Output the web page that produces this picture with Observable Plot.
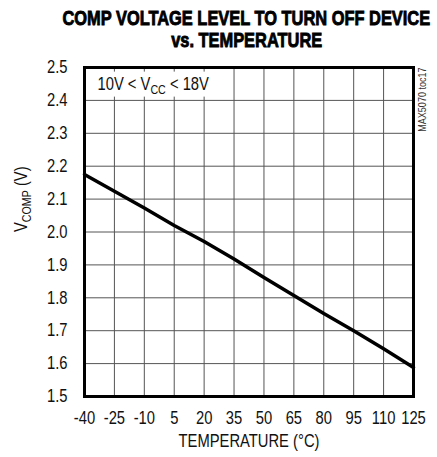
<!DOCTYPE html>
<html>
<head>
<meta charset="utf-8">
<script src="https://cdn.jsdelivr.net/npm/d3@7"></script>
<script src="https://cdn.jsdelivr.net/npm/@observablehq/plot@0.6"></script>
<style>
  html, body { margin: 0; padding: 0; background: #fff; }
  #title {
    position: relative; width: 437px; height: 50px; overflow: hidden;
    font-family: "Liberation Sans", Arial, sans-serif;
    font-weight: bold; font-size: 21px; line-height: 22px; color: #000;
    -webkit-text-stroke: 0.9px #000; white-space: nowrap;
  }
  #title span { position: absolute; display: inline-block; transform-origin: 50% 50%; }
</style>
</head>
<body>
<div id="title"><span id="t1">COMP VOLTAGE LEVEL TO TURN OFF DEVICE</span><span id="t2">vs. TEMPERATURE</span></div>
<div id="chart"></div>
<script>
const temperature = [-40, -25, -10, 5, 20, 35, 50, 65, 80, 95, 110, 125];
const vcomp = [2.175, 2.124, 2.073, 2.02, 1.971, 1.918, 1.862, 1.807, 1.752, 1.70, 1.645, 1.588];
const xTicks = [-40, -25, -10, 5, 20, 35, 50, 65, 80, 95, 110, 125];
const yTicks = [1.5, 1.6, 1.7, 1.8, 1.9, 2.0, 2.1, 2.2, 2.3, 2.4, 2.5];
const xLabel = "TEMPERATURE (°C)";
const yLabel = "VCOMP (V)";
const noteText = "10V < VCC < 18V";
const noteBox = [{x1: -40, x2: 28, y1: 2.41, y2: 2.486}];
const tocLabel = "MAX5070 toc17";

const data = temperature.map((t, i) => ({t, v: vcomp[i]}));
const font = '"Liberation Sans", Arial, sans-serif';
const narrow = 0.82;

// title: condensed by horizontal scaling, centered over the plot area
(function () {
  const t1 = document.getElementById("t1"), t2 = document.getElementById("t2");
  const w1 = t1.offsetWidth, w2 = t2.offsetWidth;
  const s = 368 / w1;
  const cx = 246;
  t1.style.left = (cx - w1 / 2) + "px"; t1.style.top = "6.5px";
  t2.style.left = (cx - w2 / 2) + "px"; t2.style.top = "28.5px";
  t1.style.transform = `scaleX(${s})`;
  t2.style.transform = `scaleX(${s})`;
})();

const chart = Plot.plot({
  width: 437,
  height: 407,
  marginTop: 17,
  marginBottom: 61,
  marginLeft: 84,
  marginRight: 24,
  style: {fontFamily: font, fontSize: "18px", color: "#111", background: "#fff"},
  x: {domain: [-40, 125], label: null},
  y: {domain: [1.5, 2.5], label: null},
  marks: [
    Plot.ruleX(xTicks, {stroke: "#555", strokeWidth: 1}),
    Plot.ruleY(yTicks, {stroke: "#555", strokeWidth: 1}),
    Plot.rect(noteBox, {x1: "x1", x2: "x2", y1: "y1", y2: "y2", fill: "#fff"}),
    Plot.text([noteText], {text: d => d, frameAnchor: "top-left", textAnchor: "start", lineAnchor: "top", dx: 13, dy: 10, fontSize: 18, fill: "#111"}),
    Plot.line(data, {x: "t", y: "v", stroke: "#000", strokeWidth: 3.5}),
    Plot.frame({stroke: "#000", strokeWidth: 3}),
    Plot.axisX(xTicks, {tickSize: 0, tickPadding: 15, tickFormat: d => String(d), fontSize: 18, label: null}),
    Plot.axisY(yTicks, {tickSize: 0, tickPadding: 17, tickFormat: d => d.toFixed(1), fontSize: 18, label: null}),
    Plot.text([xLabel], {text: d => d, frameAnchor: "bottom", lineAnchor: "middle", dy: 45, fontSize: 18, fill: "#111"}),
    Plot.text([yLabel], {text: d => d, frameAnchor: "left", rotate: -90, lineAnchor: "middle", dx: -63, fontSize: 18, fill: "#111"}),
    Plot.text([tocLabel], {text: d => d, frameAnchor: "top-right", rotate: -90, textAnchor: "end", lineAnchor: "middle", dx: 9, dy: 0, fontSize: 11, fill: "#333"})
  ]
});
document.getElementById("chart").appendChild(chart);

// subscripts
function subscript(textContent, pre, sub, post) {
  chart.querySelectorAll("text").forEach(el => {
    if (el.textContent === textContent) {
      const target = el.querySelector("tspan") || el;
      while (target.firstChild) target.removeChild(target.firstChild);
      const ns = "http://www.w3.org/2000/svg";
      target.appendChild(document.createTextNode(pre));
      const s = document.createElementNS(ns, "tspan");
      s.setAttribute("font-size", "13");
      s.setAttribute("dy", "4");
      s.textContent = sub;
      target.appendChild(s);
      const p = document.createElementNS(ns, "tspan");
      p.setAttribute("dy", "-4");
      p.textContent = post;
      target.appendChild(p);
    }
  });
}
subscript(noteText, "10V < V", "CC", " < 18V");
subscript(yLabel, "V", "COMP", " (V)");

// condense all svg text horizontally (narrow face look)
chart.querySelectorAll("text").forEach(el => {
  const len = el.getComputedTextLength();
  if (len > 0) {
    el.setAttribute("textLength", (len * narrow).toFixed(2));
    el.setAttribute("lengthAdjust", "spacingAndGlyphs");
  }
});
</script>
</body>
</html>
